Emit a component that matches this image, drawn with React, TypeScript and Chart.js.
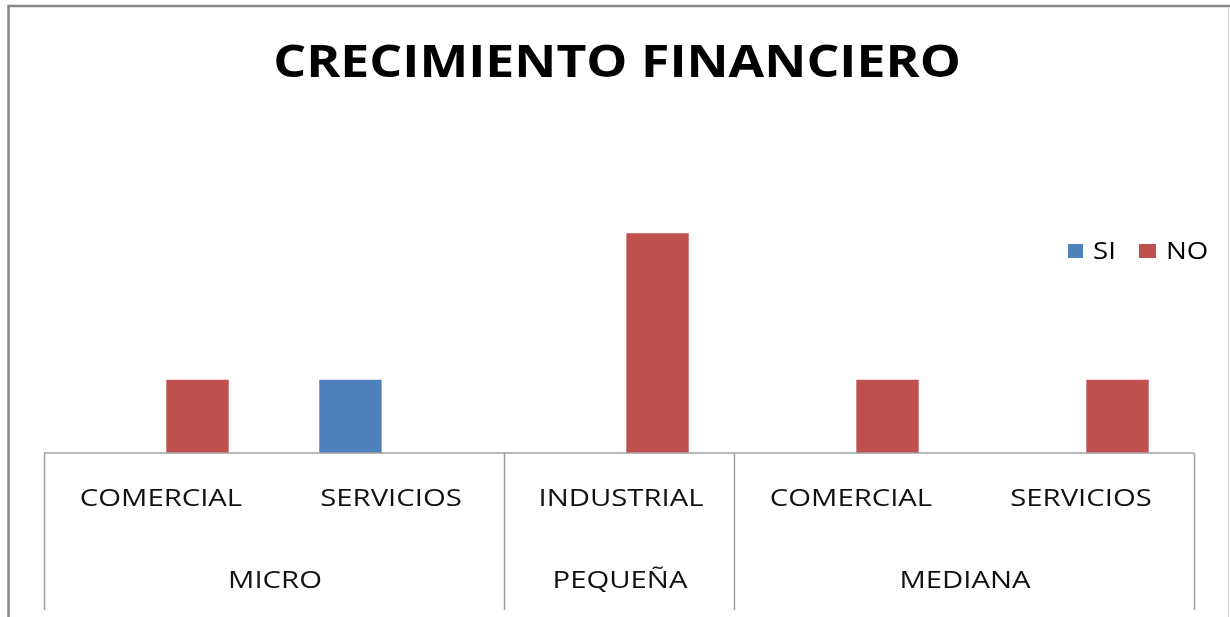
import React, { useEffect, useRef } from "react";
import { Chart, registerables } from "chart.js";

Chart.register(...registerables);

const titleText = "CRECIMIENTO FINANCIERO";
const categories = ["COMERCIAL", "SERVICIOS", "INDUSTRIAL", "COMERCIAL", "SERVICIOS"];
const groups = ["MICRO", "PEQUEÑA", "MEDIANA"];
const groupSizes = [2, 1, 2];
const seriesNames = ["SI", "NO"];
const siValues = [0, 1, 0, 0, 0];
const noValues = [1, 0, 3, 1, 1];
const seriesColors = ["#4F81BD", "#C0504D"];

function stretchText(ctx: CanvasRenderingContext2D, text: string, x: number, y: number, font: string, sx: number, align: CanvasTextAlign) {
  ctx.save();
  ctx.font = font;
  ctx.textAlign = align;
  ctx.textBaseline = "alphabetic";
  ctx.translate(x, y);
  ctx.scale(sx, 1);
  ctx.fillText(text, 0, 0);
  ctx.restore();
}

const decorPlugin = {
  id: "decor",
  afterDraw(chart: any) {
    const ctx: CanvasRenderingContext2D = chart.ctx;
    const area = chart.chartArea;
    const xs = chart.scales.x;
    const n = categories.length;
    const cw = (area.right - area.left) / n;

    // outer frame
    ctx.save();
    ctx.strokeStyle = "#888888";
    ctx.lineWidth = 2.5;
    ctx.beginPath();
    ctx.moveTo(8.5, 617);
    ctx.lineTo(8.5, 6);
    ctx.lineTo(1230, 6);
    ctx.stroke();
    ctx.strokeStyle = "#d0d0d0";
    ctx.lineWidth = 1;
    ctx.beginPath();
    ctx.moveTo(1228.5, 7);
    ctx.lineTo(1228.5, 617);
    ctx.stroke();
    ctx.restore();

    // title
    ctx.fillStyle = "#000000";
    stretchText(ctx, titleText, 617, 77, "bold 45px 'Open Sans'", 1.15, "center");

    // legend
    const legendItems = [
      { box: 1068, text: 1093, w: 15 },
      { box: 1139, text: 1166, w: 17 },
    ];
    seriesNames.forEach((name, i) => {
      ctx.fillStyle = seriesColors[i];
      ctx.fillRect(legendItems[i].box, 244, legendItems[i].w, 14);
      ctx.fillStyle = "#000000";
      stretchText(ctx, name, legendItems[i].text, 259, "24px 'Open Sans'", 1.15, "left");
    });

    // axis box
    const yBase = area.bottom;
    const yEnd = 610;
    ctx.save();
    ctx.strokeStyle = "#a0a0a0";
    ctx.lineWidth = 1.5;
    ctx.beginPath();
    ctx.moveTo(area.left, yBase);
    ctx.lineTo(area.right, yBase);
    let idx = 0;
    const bounds = [0];
    groupSizes.forEach((s) => {
      idx += s;
      bounds.push(idx);
    });
    bounds.forEach((b) => {
      const x = Math.round(area.left + b * cw) + 0.5;
      ctx.moveTo(x, yBase);
      ctx.lineTo(x, yEnd);
    });
    ctx.stroke();
    ctx.restore();

    // category labels
    ctx.fillStyle = "#111111";
    categories.forEach((c, i) => {
      const x = xs.getPixelForValue(i);
      stretchText(ctx, c, x + 2, 506, "24px 'Open Sans'", 1.22, "center");
    });
    // group labels
    groups.forEach((g, gi) => {
      const x0 = area.left + bounds[gi] * cw;
      const x1 = area.left + bounds[gi + 1] * cw;
      stretchText(ctx, g, (x0 + x1) / 2 + 1, 588, "24px 'Open Sans'", 1.22, "center");
    });
  },
};

export default function App() {
  const ref = useRef<HTMLCanvasElement>(null);
  useEffect(() => {
    if (!ref.current) return;
    const chart = new Chart(ref.current, {
      type: "bar",
      data: {
        labels: categories,
        datasets: [
          { label: seriesNames[0], data: siValues, backgroundColor: seriesColors[0], borderWidth: 0 },
          { label: seriesNames[1], data: noValues, backgroundColor: seriesColors[1], borderWidth: 0 },
        ],
      },
      options: {
        responsive: false,
        animation: false,
        events: [],
        layout: { padding: { left: 44, right: 36, top: 160, bottom: 164 } },
        datasets: { bar: { categoryPercentage: 0.67, barPercentage: 0.81 } },
        scales: {
          x: { display: false },
          y: { display: false, min: 0, max: 4 },
        },
        plugins: {
          legend: { display: false },
          title: { display: false },
          tooltip: { enabled: false },
        },
      },
      plugins: [decorPlugin],
    });
    return () => chart.destroy();
  }, []);
  return (
    <div style={{ position: "absolute", left: 0, top: 0, width: 1230, height: 617, background: "#ffffff" }}>
      <canvas ref={ref} width={1230} height={617} />
    </div>
  );
}
